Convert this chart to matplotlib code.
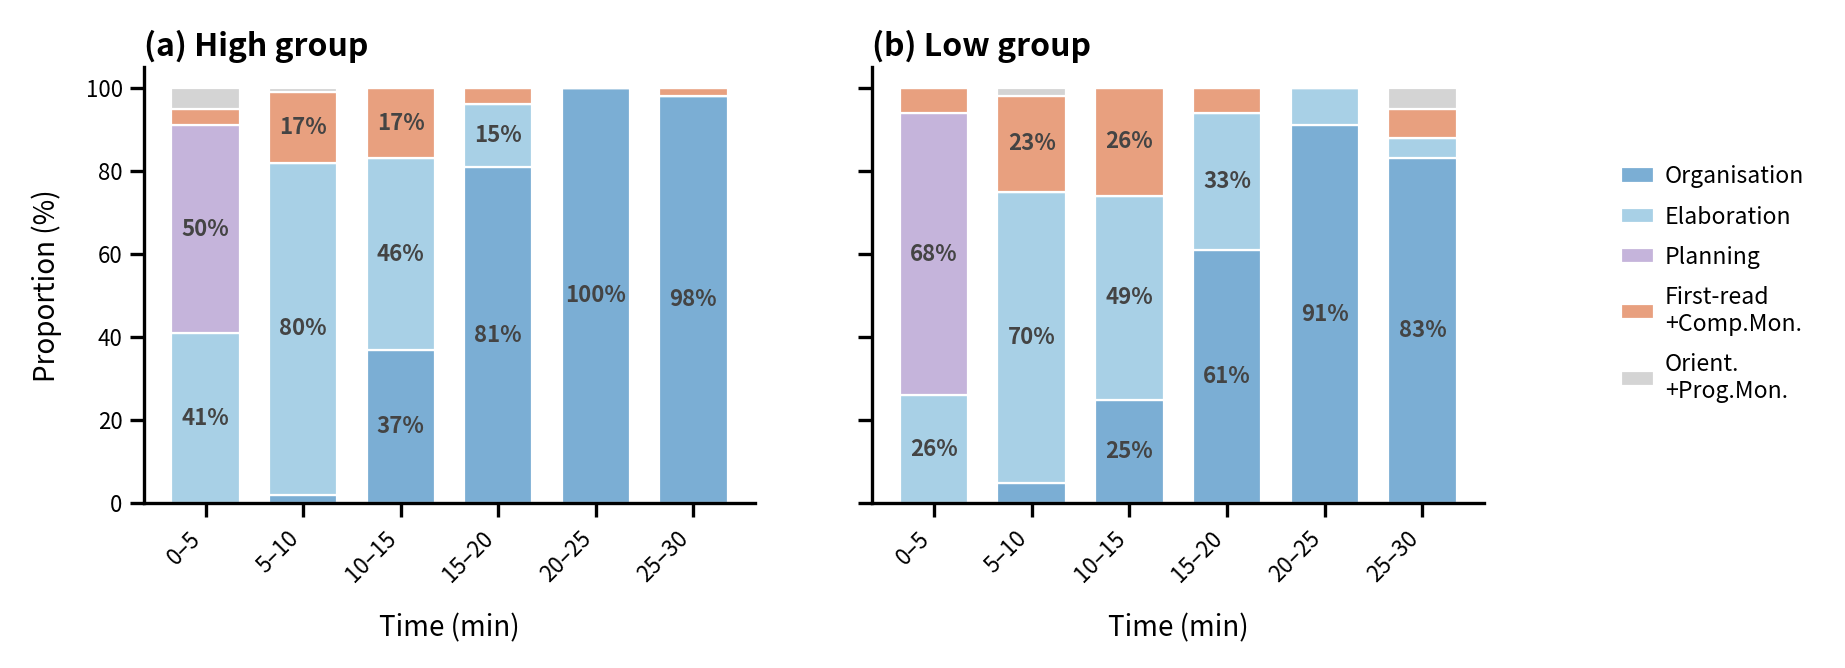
import numpy as np
import matplotlib
matplotlib.use('Agg')
import matplotlib.pyplot as plt

plt.rcParams['font.family'] = ['Noto Sans CJK JP', 'DejaVu Sans']

TIME_BINS = ['0–5', '5–10', '10–15', '15–20', '20–25', '25–30']
CATEGORIES = ['Organisation', 'Elaboration', 'Planning', 'First-read\n+Comp.Mon.', 'Orient.\n+Prog.Mon.']
COLORS = ['#7BAED4', '#A8D0E6', '#C5B4DB', '#E8A07F', '#D4D4D4']

# proportions (%) per time bin, one list per category
high_org = [0, 2, 37, 81, 100, 98]
high_elab = [41, 80, 46, 15, 0, 0]
high_plan = [50, 0, 0, 0, 0, 0]
high_first = [4, 17, 17, 4, 0, 2]
high_orient = [5, 1, 0, 0, 0, 0]

low_org = [0, 5, 25, 61, 91, 83]
low_elab = [26, 70, 49, 33, 9, 5]
low_plan = [68, 0, 0, 0, 0, 0]
low_first = [6, 23, 26, 6, 0, 7]
low_orient = [0, 2, 0, 0, 0, 5]

LABEL_MIN = 10

fig = plt.figure(figsize=(9.225, 3.34), dpi=200)
ax1 = fig.add_axes([0.0778, 0.2463, 0.3316, 0.6534])
ax2 = fig.add_axes([0.4726, 0.2463, 0.3320, 0.6534], sharey=ax1)


def draw_panel(ax, series, title):
    x = np.arange(len(TIME_BINS))
    bottom = np.zeros(len(TIME_BINS))
    handles = []
    for vals, name, col in zip(series, CATEGORIES, COLORS):
        vals = np.asarray(vals, dtype=float)
        h = ax.bar(x, vals, 0.7, bottom=bottom, color=col, edgecolor='white',
                   linewidth=0.8, label=name)
        handles.append(h)
        for xi, v, b in zip(x, vals, bottom):
            if v >= LABEL_MIN:
                ax.text(xi, b + v / 2, '{:d}%'.format(int(v)), ha='center', va='center',
                        fontsize=8, fontweight='semibold', color='#444444')
        bottom += vals
    ax.set_xticks(x)
    ax.set_xticklabels(TIME_BINS, rotation=45, ha='right', fontsize=8)
    ax.set_ylim(0, 105)
    ax.set_yticks(range(0, 101, 20))
    ax.tick_params(axis='y', labelsize=8, width=1.2, length=5, pad=2.5)
    ax.tick_params(axis='x', width=1.2, length=5, pad=3.5)
    ax.set_xlabel('Time (min)', fontsize=10, labelpad=9.5)
    ax.set_title(title, loc='left', fontsize=11.5, fontweight='bold', pad=4)
    for s in ['top', 'right']:
        ax.spines[s].set_visible(False)
    for s in ['left', 'bottom']:
        ax.spines[s].set_linewidth(1.2)
    return handles


handles = draw_panel(ax1, [high_org, high_elab, high_plan, high_first, high_orient], '(a) High group')
draw_panel(ax2, [low_org, low_elab, low_plan, low_first, low_orient], '(b) Low group')
ax1.set_ylabel('Proportion (%)', fontsize=10, labelpad=8.5)
plt.setp(ax2.get_yticklabels(), visible=False)

fig.legend(handles, CATEGORIES, loc='center left', bbox_to_anchor=(0.8675, 0.575),
           frameon=False, fontsize=8.3, handlelength=1.4, handleheight=0.65,
           handletextpad=0.5, labelspacing=0.75)

fig.savefig('out.png', dpi=200)
